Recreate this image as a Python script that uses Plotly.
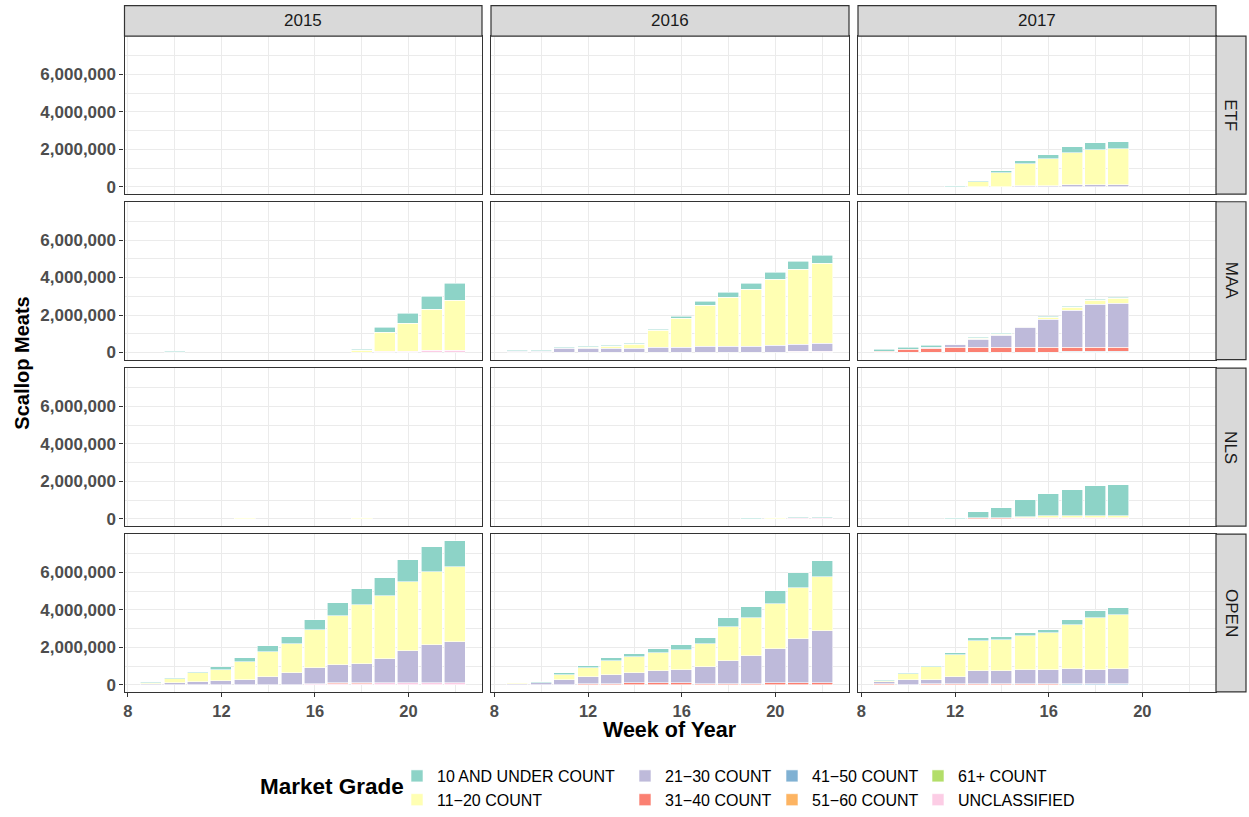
import plotly.graph_objects as go
from plotly.subplots import make_subplots

# ---------------- data ----------------
YEARS = ["2015", "2016", "2017"]
REGIONS = ["ETF", "MAA", "NLS", "OPEN"]
GRADES = ["10 AND UNDER COUNT", "11−20 COUNT", "21−30 COUNT", "31−40 COUNT",
          "41−50 COUNT", "51−60 COUNT", "61+ COUNT", "UNCLASSIFIED"]
COLORS = ["#8DD3C7", "#FFFFB3", "#BEBADA", "#FB8072",
          "#80B1D3", "#FDB462", "#B3DE69", "#FCCDE5"]

WEEKS_2015 = [9, 10, 11, 12, 13, 14, 15, 16, 17, 18, 19, 20, 21, 22]
WEEKS_2016 = [9, 10, 11, 12, 13, 14, 15, 16, 17, 18, 19, 20, 21, 22]
WEEKS_2017 = [9, 10, 11, 12, 13, 14, 15, 16, 17, 18, 19]

# values in thousands of scallop meats, per grade, aligned with the weeks of the year
ETF_2015 = {}
ETF_2016 = {}
ETF_2017 = {
    "10 AND UNDER COUNT": [0, 0, 0, 30, 50, 110, 210, 260, 320, 370, 360],
    "11−20 COUNT":        [0, 0, 0, 0, 250, 720, 1160, 1430, 1730, 1890, 1950],
    "21−30 COUNT":        [0, 0, 0, 0, 0, 0, 30, 30, 90, 90, 90],
}
MAA_2015 = {
    "10 AND UNDER COUNT": [0, 50, 0, 0, 0, 0, 0, 0, 0, 50, 260, 530, 680, 900],
    "11−20 COUNT":        [0, 0, 0, 0, 0, 0, 0, 0, 0, 90, 990, 1510, 2200, 2670],
    "UNCLASSIFIED":       [0, 0, 0, 0, 0, 0, 0, 0, 0, 0, 50, 50, 100, 100],
}
MAA_2016 = {
    "10 AND UNDER COUNT": [30, 30, 50, 50, 50, 50, 50, 110, 210, 260, 320, 370, 420, 420],
    "11−20 COUNT":        [0, 0, 0, 60, 110, 210, 890, 1570, 2210, 2630, 3050, 3530, 4000, 4260],
    "21−30 COUNT":        [60, 60, 190, 190, 190, 190, 250, 250, 300, 300, 300, 350, 350, 410],
    "UNCLASSIFIED":       [0, 0, 0, 0, 0, 0, 0, 0, 0, 0, 0, 0, 50, 50],
}
MAA_2017 = {
    "10 AND UNDER COUNT": [80, 90, 90, 10, 50, 50, 50, 50, 60, 50, 50],
    "11−20 COUNT":        [0, 0, 0, 0, 50, 70, 50, 110, 150, 210, 270],
    "21−30 COUNT":        [0, 0, 50, 140, 410, 620, 1040, 1510, 1990, 2300, 2350],
    "31−40 COUNT":        [60, 160, 210, 260, 260, 260, 260, 260, 210, 210, 210],
    "41−50 COUNT":        [0, 0, 0, 0, 0, 0, 0, 0, 50, 50, 50],
}
NLS_2015 = {
    "10 AND UNDER COUNT": [0, 0, 0, 0, 30, 0, 0, 0, 0, 30, 0, 0, 0, 0],
    "11−20 COUNT":        [0, 0, 0, 0, 20, 0, 0, 0, 0, 20, 0, 0, 0, 0],
}
NLS_2016 = {
    "10 AND UNDER COUNT": [0, 0, 0, 0, 0, 0, 0, 0, 0, 0, 20, 20, 30, 30],
    "11−20 COUNT":        [0, 0, 0, 0, 0, 0, 0, 0, 0, 0, 0, 20, 20, 20],
    "UNCLASSIFIED":       [0, 0, 0, 0, 0, 0, 0, 0, 0, 0, 0, 0, 20, 20],
}
NLS_2017 = {
    "10 AND UNDER COUNT": [0, 0, 0, 40, 340, 550, 890, 1160, 1370, 1580, 1630],
    "11−20 COUNT":        [0, 0, 0, 0, 0, 0, 80, 120, 120, 120, 120],
    "31−40 COUNT":        [0, 0, 0, 0, 30, 30, 0, 0, 0, 0, 0],
    "UNCLASSIFIED":       [0, 0, 0, 0, 0, 0, 30, 40, 40, 40, 40],
}
OPEN_2015 = {
    "10 AND UNDER COUNT": [70, 50, 90, 150, 210, 320, 370, 530, 690, 850, 950, 1170, 1330, 1400],
    "11−20 COUNT":        [55, 250, 480, 620, 1010, 1380, 1590, 2070, 2650, 3130, 3340, 3660, 3870, 3960],
    "21−30 COUNT":        [35, 70, 120, 180, 230, 390, 600, 840, 960, 1060, 1330, 1750, 2070, 2230],
    "31−40 COUNT":        [0, 0, 0, 0, 0, 0, 0, 0, 50, 50, 0, 0, 0, 0],
    "UNCLASSIFIED":       [0, 0, 0, 0, 0, 0, 0, 30, 20, 20, 70, 70, 70, 70],
}
OPEN_2016 = {
    "10 AND UNDER COUNT": [40, 50, 110, 110, 160, 150, 210, 260, 310, 470, 590, 690, 790, 850],
    "11−20 COUNT":        [40, 20, 300, 510, 740, 850, 960, 1060, 1230, 1810, 2010, 2390, 2710, 2870],
    "21−30 COUNT":        [20, 70, 230, 370, 510, 570, 670, 730, 900, 1220, 1490, 1800, 2330, 2750],
    "31−40 COUNT":        [10, 0, 0, 20, 20, 70, 70, 70, 50, 50, 50, 110, 110, 110],
}
OPEN_2017 = {
    "10 AND UNDER COUNT": [60, 60, 50, 110, 160, 160, 160, 160, 270, 380, 370],
    "11−20 COUNT":        [90, 310, 690, 1170, 1590, 1650, 1800, 1960, 2330, 2750, 2860],
    "21−30 COUNT":        [100, 260, 250, 400, 720, 720, 780, 780, 830, 780, 830],
    "31−40 COUNT":        [20, 10, 20, 20, 20, 20, 20, 20, 0, 0, 0],
    "41−50 COUNT":        [0, 0, 0, 0, 0, 0, 0, 0, 20, 20, 20],
}

Y_TICKS = [0, 2000000, 4000000, 6000000]
Y_TICK_LABELS = ["0", "2,000,000", "4,000,000", "6,000,000"]
Y_MINOR = [1000000, 3000000, 5000000, 7000000]
X_TICKS = [8, 12, 16, 20]
X_MINOR = [10, 14, 18, 22]

PANELS = {
    ("ETF", "2015"): ETF_2015, ("ETF", "2016"): ETF_2016, ("ETF", "2017"): ETF_2017,
    ("MAA", "2015"): MAA_2015, ("MAA", "2016"): MAA_2016, ("MAA", "2017"): MAA_2017,
    ("NLS", "2015"): NLS_2015, ("NLS", "2016"): NLS_2016, ("NLS", "2017"): NLS_2017,
    ("OPEN", "2015"): OPEN_2015, ("OPEN", "2016"): OPEN_2016, ("OPEN", "2017"): OPEN_2017,
}
WEEKS = {"2015": WEEKS_2015, "2016": WEEKS_2016, "2017": WEEKS_2017}
UNIT = 1000

# ---------------- figure ----------------
W, H = 1249, 817
FONT = "Liberation Sans, Arial, Helvetica, sans-serif"
BAR_W = 0.9

fig = make_subplots(rows=4, cols=3, shared_xaxes=True, shared_yaxes=True,
                    horizontal_spacing=0.01, vertical_spacing=0.01)

LEGEND_OF = ["legend", "legend", "legend2", "legend2",
             "legend3", "legend3", "legend4", "legend4"]

first = True
for ri, reg in enumerate(REGIONS):
    for ci, yr in enumerate(YEARS):
        data = PANELS[(reg, yr)]
        wk = WEEKS[yr]
        for gi in reversed(range(len(GRADES))):
            g = GRADES[gi]
            vals = data.get(g, [0] * len(wk))
            yv = [v * UNIT if v else None for v in vals]
            fig.add_trace(go.Bar(
                x=wk, y=yv, name=g, width=BAR_W,
                marker=dict(color=COLORS[gi], line=dict(color="white", width=0.6)),
                legend=LEGEND_OF[gi], legendgroup=g, legendrank=gi,
                showlegend=first, hoverinfo="skip"),
                row=ri + 1, col=ci + 1)
        first = False

# shared ranges (ggplot-style 5% expansion)
all_w = WEEKS_2015 + WEEKS_2016 + WEEKS_2017
xlo, xhi = min(all_w) - BAR_W / 2, max(all_w) + BAR_W / 2
xpad = 0.05 * (xhi - xlo)
XR = [xlo - xpad, xhi + xpad]
tot_max = 0
for (reg, yr), d in PANELS.items():
    n = len(WEEKS[yr])
    for i in range(n):
        s = sum(d[g][i] for g in d) * UNIT
        tot_max = max(tot_max, s)
YR = [-0.05 * tot_max, tot_max * 1.05]

COLS_PX = [(124.5, 482), (491, 849), (858, 1216)]
ROWS_PX = [(36.3, 194.8), (202.5, 361), (369.5, 528), (536, 694.5)]

for ri in range(4):
    for ci in range(3):
        idx = ri * 3 + ci + 1
        xa = "xaxis" if idx == 1 else f"xaxis{idx}"
        ya = "yaxis" if idx == 1 else f"yaxis{idx}"
        x0, x1 = COLS_PX[ci]
        t0, t1 = ROWS_PX[ri]
        fig.layout[xa].update(
            domain=[x0 / W, x1 / W], range=XR, tickvals=X_TICKS,
            showgrid=True, gridcolor="#EBEBEB", gridwidth=1.2,
            minor=dict(tickvals=X_MINOR, showgrid=True, gridcolor="#EBEBEB", gridwidth=0.6, ticks=""),
            showline=True, mirror=True, linecolor="#333333", linewidth=1.2,
            zeroline=False, fixedrange=True,
            ticks="outside" if ri == 3 else "", ticklen=4, tickcolor="#333333", tickwidth=1.2,
            showticklabels=(ri == 3),
            tickfont=dict(family=FONT, size=16.5, color="#4D4D4D", weight="bold"))
        fig.layout[ya].update(
            domain=[1 - t1 / H, 1 - t0 / H], range=YR, tickvals=Y_TICKS, ticktext=Y_TICK_LABELS,
            showgrid=True, gridcolor="#EBEBEB", gridwidth=1.2,
            minor=dict(tickvals=Y_MINOR, showgrid=True, gridcolor="#EBEBEB", gridwidth=0.6, ticks=""),
            showline=True, mirror=True, linecolor="#333333", linewidth=1.2,
            zeroline=False, fixedrange=True,
            ticks="outside" if ci == 0 else "", ticklen=4, tickcolor="#333333", tickwidth=1.2,
            showticklabels=(ci == 0),
            tickfont=dict(family=FONT, size=17, color="#4D4D4D", weight="bold"))

shapes = []
annotations = []
# top strips
for ci, yr in enumerate(YEARS):
    x0, x1 = COLS_PX[ci]
    shapes.append(dict(type="rect", xref="paper", yref="paper",
                       x0=x0 / W, x1=x1 / W, y0=1 - 36.3 / H, y1=1 - 5.7 / H,
                       fillcolor="#D9D9D9", line=dict(color="#333333", width=1.2), layer="above"))
    annotations.append(dict(text=yr, xref="paper", yref="paper", x=(x0 + x1) / 2 / W,
                            y=1 - 21 / H, showarrow=False, xanchor="center", yanchor="middle",
                            font=dict(family=FONT, size=17, color="#1A1A1A")))
# right strips
for ri, reg in enumerate(REGIONS):
    t0, t1 = ROWS_PX[ri]
    shapes.append(dict(type="rect", xref="paper", yref="paper",
                       x0=1216 / W, x1=1246 / W, y0=1 - t1 / H, y1=1 - t0 / H,
                       fillcolor="#D9D9D9", line=dict(color="#333333", width=1.2), layer="above"))
    annotations.append(dict(text=reg, xref="paper", yref="paper", x=1231 / W,
                            y=1 - (t0 + t1) / 2 / H, showarrow=False, textangle=90,
                            xanchor="center", yanchor="middle",
                            font=dict(family=FONT, size=17, color="#1A1A1A")))
# axis titles
annotations.append(dict(text="<b>Week of Year</b>", xref="paper", yref="paper", x=670 / W,
                        y=1 - 733 / H, showarrow=False, xanchor="center", yanchor="middle",
                        font=dict(family=FONT, size=21.5, color="#000000")))
annotations.append(dict(text="<b>Scallop Meats</b>", xref="paper", yref="paper", x=22 / W,
                        y=1 - 365 / H, showarrow=False, textangle=-90, xanchor="center",
                        yanchor="middle", font=dict(family=FONT, size=20, color="#000000")))
# legend title
annotations.append(dict(text="<b>Market Grade</b>", xref="paper", yref="paper", x=258 / W,
                        y=1 - 789 / H, showarrow=False, xanchor="left", yanchor="middle",
                        font=dict(family=FONT, size=22.5, color="#000000")))

layout_legends = {}
for k, xt in enumerate([437, 665, 812, 958]):
    name = "legend" if k == 0 else f"legend{k + 1}"
    layout_legends[name] = dict(
        x=(xt - 40) / W, xanchor="left", y=1 - 762 / H, yanchor="top",
        orientation="v", bgcolor="rgba(0,0,0,0)", borderwidth=0,
        font=dict(family=FONT, size=16, color="#000000"),
        tracegroupgap=0, traceorder="normal", itemclick=False, itemdoubleclick=False)

fig.update_layout(
    width=W, height=H, margin=dict(l=0, r=0, t=0, b=0),
    paper_bgcolor="white", plot_bgcolor="white",
    barmode="stack", bargap=0,
    font=dict(family=FONT),
    shapes=shapes, annotations=annotations,
    **layout_legends)

fig.write_html("out.html", config={"displayModeBar": False},
               post_script="document.body.style.margin='0';document.body.style.overflow='hidden';")
